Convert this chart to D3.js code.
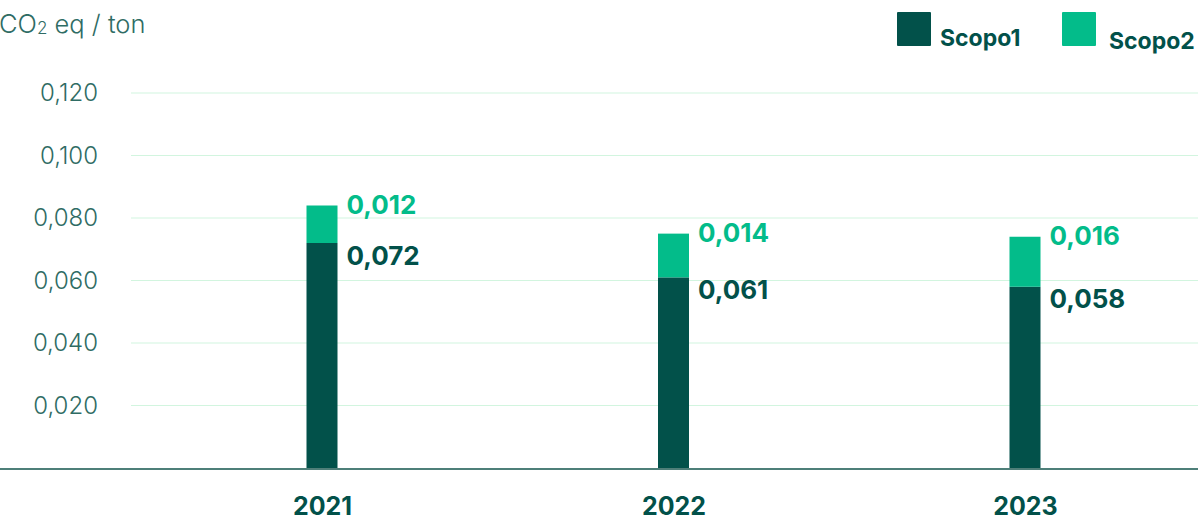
<!DOCTYPE html>
<html>
<head>
<meta charset="utf-8">
<script src="https://cdn.jsdelivr.net/npm/d3@7"></script>
<style>
  html, body { margin: 0; padding: 0; background: #ffffff; }
  svg { display: block; font-family: Inter, "Noto Sans", sans-serif; }
</style>
</head>
<body>
<svg id="chart" width="1198" height="522"></svg>
<script>
// Emissions intensity (CO2 eq per ton), split by scope
const years = ["2021", "2022", "2023"];
const scopo1 = [0.072, 0.061, 0.058];
const scopo2 = [0.012, 0.014, 0.016];
const yTicks = [0.02, 0.04, 0.06, 0.08, 0.1, 0.12];
const seriesNames = ["Scopo1", "Scopo2"];

const colors = { Scopo1: "#02514a", Scopo2: "#03bc8a" };
const textDark = "#02514a";
const tickColor = "#2f6c64";

const svg = d3.select("#chart");
const W = 1198, H = 522;
const baseY = 468, topY = 93;

const x = d3.scalePoint().domain(years).range([322, 1025]);
const y = d3.scaleLinear().domain([0, 0.12]).range([baseY, topY]);
const fmt = v => d3.format(".3f")(v).replace(".", ",");
const barW = 31;

// gridlines
svg.append("g")
  .selectAll("line")
  .data(yTicks)
  .join("line")
  .attr("x1", 131).attr("x2", W)
  .attr("y1", d => y(d)).attr("y2", d => y(d))
  .attr("stroke", "#d2f5df").attr("stroke-width", 1.2);

// y tick labels
const yAxis = d3.axisLeft(y).tickValues(yTicks).tickFormat(fmt).tickSize(0).tickPadding(0);
const yg = svg.append("g").attr("transform", "translate(98,0)").call(yAxis);
yg.select(".domain").remove();
yg.selectAll("text")
  .attr("fill", tickColor)
  .style("font-size", "24px")
  .style("font-weight", 300)
  .style("font-family", "Inter, sans-serif");

// title
const title = svg.append("text")
  .attr("x", -1).attr("y", 33)
  .attr("fill", tickColor)
  .style("font-size", "25.5px")
  .style("font-weight", 300);
title.append("tspan").text("CO");
title.append("tspan").text("2").style("font-size", "17px").attr("dy", 1);
title.append("tspan").text(" eq / ton").attr("dy", -1);

// stacked bars
const stackData = years.map((yr, i) => ({ year: yr, Scopo1: scopo1[i], Scopo2: scopo2[i] }));
const stack = d3.stack().keys(seriesNames)(stackData);

svg.append("g")
  .selectAll("g")
  .data(stack)
  .join("g")
  .attr("fill", d => colors[d.key])
  .selectAll("rect")
  .data(d => d)
  .join("rect")
  .attr("x", d => x(d.data.year) - barW / 2)
  .attr("width", barW)
  .attr("y", d => y(d[1]))
  .attr("height", d => y(d[0]) - y(d[1]));

// baseline
svg.append("line")
  .attr("x1", 0).attr("x2", W)
  .attr("y1", baseY + 1).attr("y2", baseY + 1)
  .attr("stroke", "#4e7f79").attr("stroke-width", 2);

// value labels
const lbl = svg.append("g").style("font-size", "26px").style("font-weight", 700);
stackData.forEach(d => {
  const xr = x(d.year) + barW / 2 + 9;
  lbl.append("text")
    .attr("x", xr).attr("y", y(d.Scopo1 + d.Scopo2) - 1)
    .attr("dominant-baseline", "central")
    .attr("fill", colors.Scopo2)
    .text(fmt(d.Scopo2));
  lbl.append("text")
    .attr("x", xr).attr("y", y(d.Scopo1) + 12)
    .attr("dominant-baseline", "central")
    .attr("fill", textDark)
    .text(fmt(d.Scopo1));
});

// x axis labels
const xAxis = d3.axisBottom(x).tickSize(0).tickPadding(0);
const xg = svg.append("g").attr("transform", "translate(0,515)").call(xAxis);
xg.select(".domain").remove();
xg.selectAll("text")
  .attr("dy", 0)
  .attr("fill", textDark)
  .style("font-size", "25px")
  .style("font-weight", 700)
  .style("font-family", "Inter, sans-serif");

// legend
const legend = svg.append("g");
const legendItems = [
  { key: "Scopo1", sx: 897, sy: 12, tx: 940, ty: 46 },
  { key: "Scopo2", sx: 1062, sy: 12, tx: 1109, ty: 49 }
];
legendItems.forEach(it => {
  legend.append("rect")
    .attr("x", it.sx).attr("y", it.sy)
    .attr("width", 34).attr("height", 34)
    .attr("rx", 1)
    .attr("fill", colors[it.key]);
  legend.append("text")
    .attr("x", it.tx).attr("y", it.ty)
    .attr("fill", textDark)
    .style("font-size", "23px")
    .style("font-weight", 700)
    .text(it.key);
});
</script>
</body>
</html>
